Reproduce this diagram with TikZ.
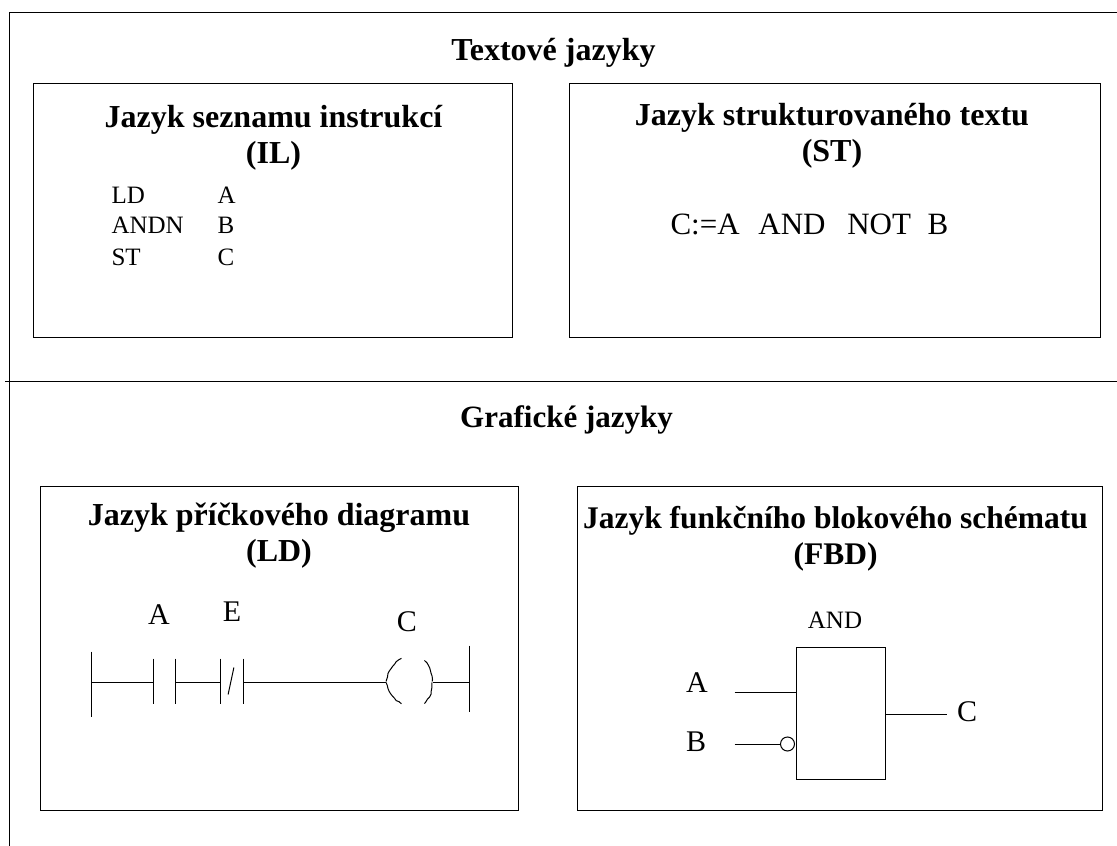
\documentclass[tikz,border=0pt]{standalone}
\usepackage{fontspec}
\usetikzlibrary{decorations.pathmorphing}
\setmainfont{Liberation Serif}
\tikzset{
  panel/.style={draw,inner sep=0pt,anchor=north west},
  heading/.style={font=\fontsize{32}{36}\selectfont\bfseries,align=center},
  title/.style={font=\fontsize{32}{36}\selectfont\bfseries},
  label/.style={font=\fontsize{30}{34}\selectfont},
  listing/.style={font=\fontsize{25}{30}\selectfont,anchor=base west,inner sep=0pt},
  pin/.style={inner sep=0pt,minimum size=0pt},
  coil/.style={decorate,decoration={random steps,segment length=3pt,amplitude=.5pt}}
}
\begin{document}
\begin{tikzpicture}[x=1pt,y=-1pt,line width=1pt,every edge/.style={draw,line width=1pt}]
  \useasboundingbox (0,0) rectangle (1117,846);

  % frame
  \coordinate (f1) at (9,846);
  \coordinate (f2) at (9,12);
  \coordinate (f3) at (1117,12);
  \coordinate (s1) at (5,381);
  \coordinate (s2) at (1117,381);
  \draw (f1) -- (f2) -- (f3);
  \path (s1) edge (s2);

  % panels
  \node[panel,minimum width=479pt,minimum height=254pt] (il)  at (33,83)  {};
  \node[panel,minimum width=531pt,minimum height=254pt] (st)  at (569,83) {};
  \node[panel,minimum width=478pt,minimum height=324pt] (ld)  at (40,486) {};
  \node[panel,minimum width=525pt,minimum height=324pt] (fbd) at (577,486) {};

  \node[title] (textove)  at (553.5,53)  {Textové jazyky};
  \node[title,font=\fontsize{31}{36}\selectfont\bfseries] (graficke) at (566.5,420) {Grafické jazyky};

  \node[heading] (ilhead)  at (273.5,138) {Jazyk seznamu instrukcí\\(IL)};
  \node[heading] (sthead)  at (832,136) {Jazyk strukturovaného textu\\(ST)};
  \node[heading] (ldhead)  at (279,536) {Jazyk příčkového diagramu\\(LD)};
  \node[heading,font=\fontsize{31.5}{36}\selectfont\bfseries] (fbdhead) at (835.5,539) {Jazyk funkčního blokového schématu\\(FBD)};

  % instruction list
  \begin{scope}[every node/.style={listing}]
    \node (op1)  at (111,203) {LD};
    \node (arg1) at (217,203) {A};
    \node (op2)  at (111,233) {ANDN};
    \node (arg2) at (217,233) {B};
    \node (op3)  at (111,265) {ST};
    \node (arg3) at (217,265) {C};
  \end{scope}
  \node[font=\fontsize{31}{34}\selectfont,anchor=base west,inner sep=0pt] (stcode) at (670,234)
    {C:=A\hspace{11pt} AND\hspace{14pt} NOT\hspace{9pt} B};

  % ladder
  \begin{scope}[every node/.style={pin}]
    \node (lt) at (91,651)  {};
    \node (lb) at (91,717)  {};
    \node (l)  at (91,682)  {};
    \node (a1) at (153,658) {};
    \node (a2) at (153,704) {};
    \node (a)  at (153,682) {};
    \node (b1) at (175,658) {};
    \node (b2) at (175,704) {};
    \node (b)  at (175,682) {};
    \node (c1) at (220,658) {};
    \node (c2) at (220,704) {};
    \node (c)  at (220,682) {};
    \node (d1) at (243,658) {};
    \node (d2) at (243,704) {};
    \node (d)  at (243,682) {};
    \node (x1) at (228,695) {};
    \node (x2) at (234,667) {};
    \node (p1) at (402,658) {};
    \node (p2) at (386,682) {};
    \node (p3) at (402,704) {};
    \node (q1) at (424,660) {};
    \node (q2) at (432,682) {};
    \node (q3) at (424,704) {};
    \node (rt) at (469,645) {};
    \node (rb) at (469,712) {};
    \node (r)  at (469,682) {};
  \end{scope}
  \path (lt) edge (lb);
  \path (l)  edge (a);
  \path (a1) edge (a2);
  \path (b1) edge (b2);
  \path (b)  edge (c);
  \path (c1) edge (c2);
  \path (x1) edge (x2);
  \path (d1) edge (d2);
  \path (d)  edge (p2);
  \path (p1) edge[coil,bend right=22] (p2);
  \path (p2) edge[coil,bend right=22] (p3);
  \path (q1) edge[coil,bend left=22] (q2);
  \path (q2) edge[coil,bend left=22] (q3);
  \path (q2) edge (r);
  \path (rt) edge (rb);

  \node[label] (la) at (159,615) {A};
  \node[label] (lbb) at (232,612) {E};
  \node[label] (lc) at (407,622) {C};

  % function block
  \node[draw,inner sep=0pt,minimum width=89pt,minimum height=132pt,anchor=north west] (and) at (796,647) {};
  \node[font=\fontsize{25}{30}\selectfont] (andtxt) at (835,620) {AND};
  \node[label] (fa) at (697,683) {A};
  \node[label] (fb) at (696,742) {B};
  \node[label] (fc) at (967,712) {C};
  \node[draw,circle,inner sep=0pt,minimum size=14pt] (neg) at (787.5,744) {};
  \begin{scope}[every node/.style={pin}]
    \node (ina) at (734,692) {};
    \node (inb) at (734,744) {};
    \node (out) at (947,714) {};
  \end{scope}
  \path (ina) edge (ina -| and.west);
  \path (inb) edge (neg);
  \path (out -| and.east) edge (out);
\end{tikzpicture}
\end{document}
